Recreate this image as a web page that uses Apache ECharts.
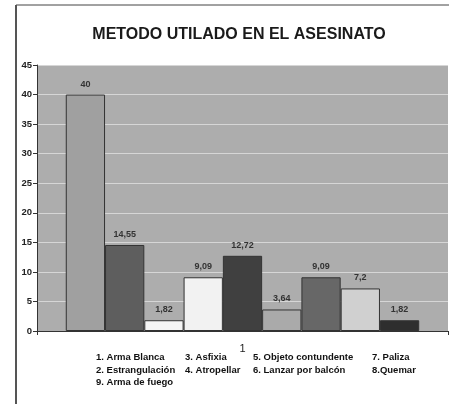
<!DOCTYPE html>
<html><head><meta charset="utf-8">
<script src="https://cdn.jsdelivr.net/npm/echarts@6/dist/echarts.min.js"></script>
<style>html,body{margin:0;padding:0;background:#fff}#c{width:449px;height:404px}</style>
</head><body><div id="c"></div>
<script>
const title = 'METODO UTILADO EN EL ASESINATO';
const categories = ['1'];
const seriesNames = ['1. Arma Blanca','2. Estrangulación','3. Asfixia','4. Atropellar','5. Objeto contundente','6. Lanzar por balcón','7. Paliza','8.Quemar','9. Arma de fuego'];
const values = [40, 14.55, 1.82, 9.09, 12.72, 3.64, 9.09, 7.2, 1.82];
const labels = ['40','14,55','1,82','9,09','12,72','3,64','9,09','7,2','1,82'];
const colors = ['#a0a0a0','#5e5e5e','#f5f5f5','#f2f2f2','#404040','#aaaaaa','#676767','#d0d0d0','#2e2e2e'];
const legendCols = [
  ['1. Arma Blanca','2. Estrangulación','9. Arma de fuego'],
  ['3. Asfixia','4. Atropellar'],
  ['5. Objeto contundente','6. Lanzar por balcón'],
  ['7. Paliza','8.Quemar']
];
const legendX = [85, 174, 242, 361];
const yTicks = {min:0, max:45, interval:5};

const chart = echarts.init(document.getElementById('c'), null, {renderer:'canvas'});
const font = 'Liberation Sans, Arial, sans-serif';
const series = seriesNames.map((n,i)=>({
  name:n, type:'bar', data:[values[i]],
  barGap:'0%', barCategoryGap:'14%',
  itemStyle:{color:colors[i], borderColor:'#333', borderWidth:1},
  label:{show:true, position:'top', formatter:()=>labels[i], fontFamily:font, fontWeight:'bold', fontSize:9, color:'#333', distance:6},
  animation:false
}));
chart.setOption({
  animation:false,
  color:colors,
  title:{text:title, left:234, top:22, textAlign:'center', textStyle:{fontFamily:font, fontWeight:'bold', fontSize:16, color:'#1a1a1a'}},
  grid:{left:37, right:1, top:65, bottom:73, show:true, backgroundColor:'#adadad', borderWidth:0},
  xAxis:{type:'category', data:categories,
    axisLine:{lineStyle:{color:'#333', width:1}},
    axisTick:{show:true, length:4, lineStyle:{color:'#333'}},
    axisLabel:{fontFamily:font, fontSize:11, color:'#222', margin:12}},
  yAxis:{type:'value', min:yTicks.min, max:yTicks.max, interval:yTicks.interval,
    axisLine:{show:true, lineStyle:{color:'#333'}},
    axisTick:{show:true, length:4, lineStyle:{color:'#333'}},
    axisLabel:{fontFamily:font, fontSize:9.5, fontWeight:'bold', color:'#222', margin:5},
    splitLine:{lineStyle:{color:'#d6d6d6', width:1}}},
  legend: legendCols.map((d,k)=>({
    data:d, orient:'vertical', left:legendX[k], top:347, itemWidth:0, itemHeight:0, itemGap:1.5,
    selectedMode:false, icon:'rect',
    textStyle:{fontFamily:font, fontWeight:'bold', fontSize:9.5, color:'#111', lineHeight:11}
  })),
  graphic:[
    {type:'line', shape:{x1:16, y1:5, x2:449, y2:5}, style:{stroke:'#444', lineWidth:1}},
    {type:'line', shape:{x1:16, y1:5, x2:16, y2:404}, style:{stroke:'#555', lineWidth:2}}
  ],
  series: series
});
</script></body></html>
